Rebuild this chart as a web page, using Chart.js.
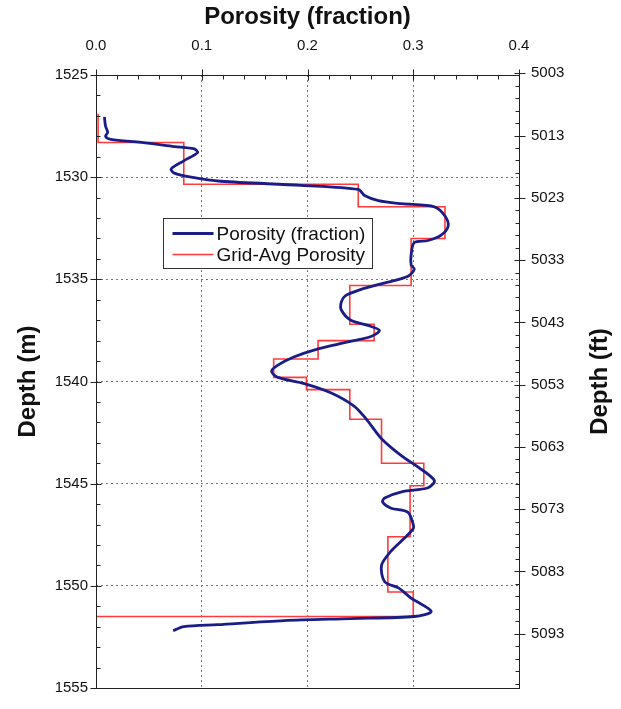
<!DOCTYPE html>
<html><head><meta charset="utf-8">
<script src="https://cdn.jsdelivr.net/npm/chart.js@4/dist/chart.umd.min.js"></script>
<style>html,body{margin:0;padding:0;background:#fff;overflow:hidden}#wrap{width:621px;height:709px;position:relative}</style>
</head><body><div id="wrap"><canvas id="c" width="621" height="709"></canvas></div>
<script>
// ---- tick labels ----
const porosityTicks = [0.0, 0.1, 0.2, 0.3, 0.4];
const depthMTicks = [1525, 1530, 1535, 1540, 1545, 1550, 1555];
const depthFtTicks = [5003, 5013, 5023, 5033, 5043, 5053, 5063, 5073, 5083, 5093];

// ---- porosity log (blue) ----
const logDepth = [1527.05,1527.5,1527.8,1528.0,1528.15,1528.3,1528.5,1528.62,1528.8,1529.2,1529.6,1529.8,1530.0,1530.2,1530.4,1530.6,1530.9,1531.15,1531.3,1531.45,1531.9,1532.4,1532.85,1533.1,1533.2,1533.8,1534.3,1534.5,1534.85,1535.15,1535.5,1535.8,1536.1,1536.5,1537.0,1537.25,1537.5,1537.8,1538.1,1538.4,1538.8,1539.2,1539.5,1539.8,1540.1,1540.55,1541.2,1541.8,1542.8,1543.64,1544.2,1544.85,1545.2,1545.4,1545.7,1545.9,1546.2,1546.4,1547.0,1547.2,1547.7,1548.3,1549.0,1549.8,1550.1,1550.6,1551.25,1551.5,1551.6,1551.7,1551.9,1552.0,1552.2];
const logPorosity = [0.008,0.009,0.011,0.009,0.014,0.043,0.074,0.093,0.096,0.083,0.071,0.074,0.090,0.118,0.194,0.248,0.254,0.267,0.289,0.320,0.330,0.333,0.326,0.314,0.301,0.298,0.298,0.301,0.295,0.275,0.250,0.236,0.232,0.232,0.241,0.257,0.268,0.260,0.235,0.210,0.187,0.172,0.166,0.172,0.197,0.222,0.244,0.255,0.270,0.289,0.305,0.320,0.314,0.289,0.273,0.271,0.279,0.295,0.300,0.300,0.291,0.279,0.270,0.273,0.286,0.298,0.317,0.301,0.241,0.178,0.115,0.083,0.073];

// ---- grid-averaged porosity (red step) ----
const gridTop = [1526.9,1528.3,1530.35,1531.45,1533.0,1535.3,1537.2,1538.0,1538.9,1539.8,1540.4,1541.85,1544.0,1545.1,1547.6,1550.3];
const gridBase = [1528.3,1530.35,1531.45,1533.0,1535.3,1537.2,1538.0,1538.9,1539.8,1540.4,1541.85,1544.0,1545.1,1547.6,1550.3,1551.5];
const gridPorosity = [0.002,0.083,0.248,0.330,0.298,0.240,0.263,0.210,0.168,0.199,0.240,0.270,0.310,0.297,0.276,0.300];

const M_TO_FT = 3.28084;

const bluePts = logDepth.map((d, i) => ({x: logPorosity[i], y: d}));
const redPts = [];
gridTop.forEach((t, i) => { redPts.push({x: gridPorosity[i], y: t}); redPts.push({x: gridPorosity[i], y: gridBase[i]}); });
redPts.push({x: 0, y: gridBase[gridBase.length - 1]});

const tickFont = {family: 'Liberation Sans, Arial, sans-serif', size: 15};
const AX = '#222';

const decor = {
  id: 'decor',
  afterDatasetsDraw(chart) {
    const {ctx, chartArea: a, scales} = chart;
    const L = Math.round(a.left) + 0.5, R = Math.round(a.right) + 0.5, T = Math.round(a.top) + 0.5, B = Math.round(a.bottom) + 0.5;
    ctx.save();
    ctx.strokeStyle = AX; ctx.lineWidth = 1;
    ctx.strokeRect(L, T, R - L, B - T);
    ctx.beginPath();
    for (let i = 0; i <= 20; i++) {
      const v = i * 0.02, px = Math.round(scales.x.getPixelForValue(v)) + 0.5, major = i % 5 === 0;
      ctx.moveTo(px, major ? T - 6 : T); ctx.lineTo(px, T + (major ? 5 : 4));
    }
    for (let v = 1525; v <= 1555; v++) {
      const py = Math.round(scales.y.getPixelForValue(v)) + 0.5, major = (v - 1525) % 5 === 0;
      ctx.moveTo(major ? L - 6 : L, py); ctx.lineTo(L + (major ? 5 : 4), py);
    }
    const sf = scales.yFt;
    for (let v = 5003; v <= sf.max; v += 2) {
      const py = Math.round(sf.getPixelForValue(v)) + 0.5, major = (v - 5003) % 10 === 0;
      ctx.moveTo(R - (major ? 5 : 4), py); ctx.lineTo(major ? R + 6 : R, py);
    }
    ctx.stroke();

    ctx.fillStyle = '#111';
    ctx.font = 'bold 24px "Liberation Sans", Arial, sans-serif';
    ctx.textAlign = 'center'; ctx.textBaseline = 'middle';
    ctx.fillText(chart.options.scales.x.title.text, (a.left + a.right) / 2, 17);
    const midY = (a.top + a.bottom) / 2;
    ctx.save(); ctx.translate(28, midY); ctx.rotate(-Math.PI / 2);
    ctx.fillText(chart.options.scales.y.title.text, 0, 0); ctx.restore();
    ctx.save(); ctx.translate(600, midY); ctx.rotate(-Math.PI / 2);
    ctx.fillText(chart.options.scales.yFt.title.text, 0, 0); ctx.restore();

    const bx = 163.5, by = 218.5, bw = 209, bh = 50;
    ctx.fillStyle = '#fff'; ctx.fillRect(bx, by, bw, bh);
    ctx.strokeStyle = '#333'; ctx.lineWidth = 1; ctx.strokeRect(bx, by, bw, bh);
    ctx.font = '19px "Liberation Sans", Arial, sans-serif';
    ctx.textAlign = 'left';
    chart.data.datasets.forEach((ds, i) => {
      const yy = by + 15 + i * 21;
      ctx.strokeStyle = ds.borderColor; ctx.lineWidth = ds.borderWidth;
      ctx.beginPath(); ctx.moveTo(bx + 9, yy); ctx.lineTo(bx + 50, yy); ctx.stroke();
      ctx.fillStyle = '#111'; ctx.fillText(ds.label, bx + 53, yy + 1);
    });
    ctx.restore();
  }
};

new Chart(document.getElementById('c'), {
  type: 'scatter',
  data: {datasets: [
    {label: 'Porosity (fraction)', data: bluePts, showLine: true, borderColor: '#1a1d88', borderWidth: 2.8, pointRadius: 0, tension: 0.3, fill: false},
    {label: 'Grid-Avg Porosity', data: redPts, showLine: true, borderColor: '#ff3b3b', borderWidth: 1.6, pointRadius: 0, tension: 0, fill: false}
  ]},
  options: {
    responsive: false, animation: false, devicePixelRatio: 1,
    layout: {padding: {left: 0, right: 0, top: 0, bottom: 14}},
    plugins: {legend: {display: false}, tooltip: {enabled: false}},
    scales: {
      x: {
        type: 'linear', position: 'top', min: 0, max: 0.4,
        title: {display: false, text: 'Porosity (fraction)'},
        afterBuildTicks: s => { s.ticks = porosityTicks.map(v => ({value: v})); },
        afterFit: s => { s.height = 75; },
        ticks: {font: tickFont, color: '#111', padding: 20, maxRotation: 0, callback: v => v.toFixed(1)},
        grid: {drawTicks: false, color: '#777', lineWidth: 1},
        border: {display: false, dash: [2, 3]}
      },
      y: {
        type: 'linear', position: 'left', reverse: true, min: 1525, max: 1555,
        title: {display: false, text: 'Depth (m)'},
        afterBuildTicks: s => { s.ticks = depthMTicks.map(v => ({value: v})); },
        afterFit: s => { s.width = 96; },
        ticks: {font: tickFont, color: '#111', padding: 8, callback: v => String(v)},
        grid: {drawTicks: false, color: '#777', lineWidth: 1},
        border: {display: false, dash: [2, 3]}
      },
      yFt: {
        type: 'linear', position: 'right', reverse: true, min: 1525 * M_TO_FT, max: 1555 * M_TO_FT,
        title: {display: false, text: 'Depth (ft)'},
        afterBuildTicks: s => { s.ticks = depthFtTicks.map(v => ({value: v})); },
        afterFit: s => { s.width = 102; },
        ticks: {font: tickFont, color: '#111', padding: 12, callback: v => String(v)},
        grid: {drawOnChartArea: false, drawTicks: false},
        border: {display: false}
      }
    }
  },
  plugins: [decor]
});
</script></body></html>
